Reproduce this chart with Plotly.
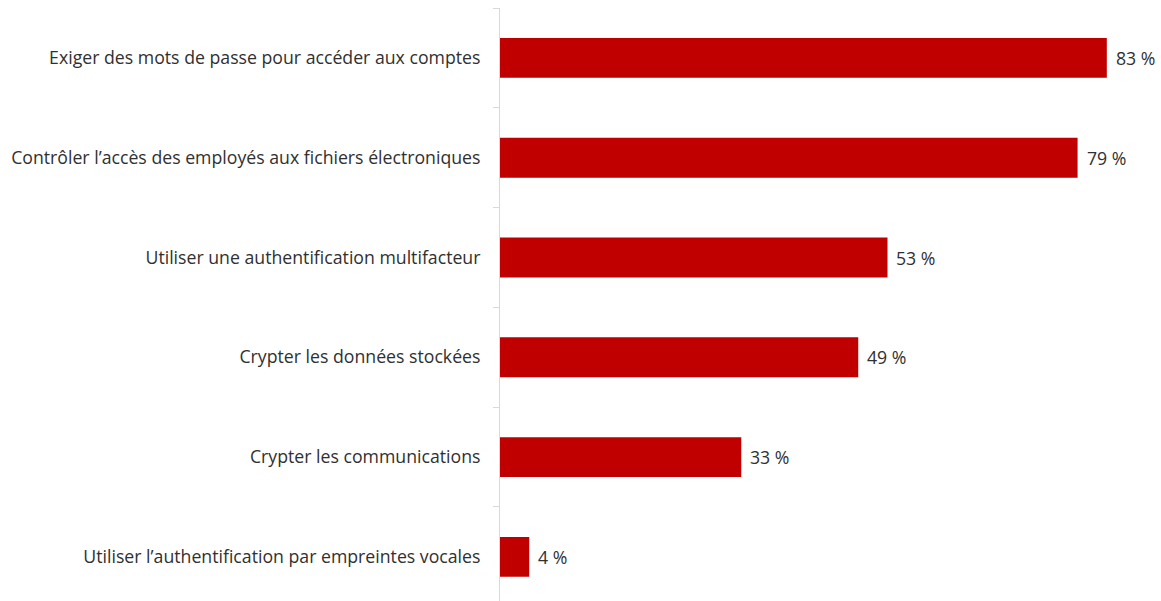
import plotly.graph_objects as go

categories = [
    "Exiger des mots de passe pour accéder aux comptes",
    "Contrôler l’accès des employés aux fichiers électroniques",
    "Utiliser une authentification multifacteur",
    "Crypter les données stockées",
    "Crypter les communications",
    "Utiliser l’authentification par empreintes vocales",
]
values = [83, 79, 53, 49, 33, 4]
value_labels = [f"{v} %" for v in values]

BAR_RED = "#C00000"
AXIS_GREY = "#D9D9D9"
TEXT = "#303030"
FONT = "Open Sans"
SIZE = 17.7

fig = go.Figure(
    go.Bar(
        x=values,
        y=categories,
        orientation="h",
        marker=dict(color=BAR_RED, line=dict(width=0)),
        width=0.4,
        cliponaxis=False,
    )
)

# value labels just past the end of each bar
for cat, v, lab in zip(categories, values, value_labels):
    fig.add_annotation(
        x=v,
        y=cat,
        text=lab,
        showarrow=False,
        xanchor="left",
        yanchor="middle",
        xshift=7,
        font=dict(family=FONT, size=SIZE, color=TEXT),
    )

fig.update_layout(
    width=1161,
    height=601,
    margin=dict(l=500, r=3, t=8, b=0),
    paper_bgcolor="white",
    plot_bgcolor="white",
    showlegend=False,
    font=dict(family=FONT, size=SIZE, color=TEXT),
    xaxis=dict(
        range=[0, 90],
        showgrid=False,
        zeroline=False,
        showticklabels=False,
        showline=False,
    ),
    yaxis=dict(
        categoryorder="array",
        categoryarray=categories,
        range=[5.442, -0.5],
        showline=True,
        linecolor=AXIS_GREY,
        linewidth=1,
        ticks="outside",
        tickson="boundaries",
        ticklen=6,
        tickcolor=AXIS_GREY,
        ticklabelstandoff=15,
        showgrid=False,
        tickfont=dict(family=FONT, size=SIZE, color=TEXT),
    ),
)

fig.write_html("out.html")
